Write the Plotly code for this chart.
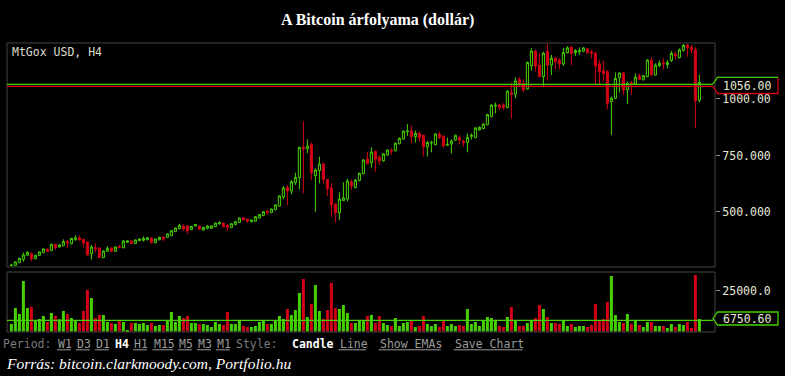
import plotly.graph_objects as go

# ---------------- data ----------------
candle_index = list(range(173))

open_ = [263, 264, 276, 290, 308, 317, 293, 308, 320, 336, 329, 357, 345, 351, 370, 360, 377, 386, 379, 367,
         316, 342, 341, 298, 326, 341, 326, 348, 342, 366, 372, 360, 373, 375, 377, 385, 364, 377, 389, 388,
         395, 413, 426, 438, 438, 422, 438, 438, 420, 428, 428, 435, 447, 451, 442, 431, 444, 453, 475, 469,
         457, 459, 473, 484, 503, 497, 510, 526, 566, 608, 593, 630, 652, 786, 779, 801, 661, 683, 712, 644,
         606, 535, 497, 550, 557, 633, 608, 639, 669, 734, 718, 768, 742, 726, 752, 774, 771, 802, 823, 855,
         858, 833, 848, 839, 789, 805, 798, 845, 836, 795, 801, 818, 829, 814, 807, 835, 829, 863, 869, 886,
         922, 969, 973, 973, 962, 1028, 1021, 1087, 1069, 1044, 1147, 1212, 1150, 1099, 1212, 1150, 1180, 1172, 1155, 1205,
         1229, 1205, 1209, 1211, 1221, 1209, 1203, 1155, 1124, 1121, 988, 1003, 1094, 1115, 1041, 1072, 1066, 1102, 1085, 1099,
         1172, 1106, 1147, 1160, 1152, 1170, 1199, 1183, 1215, 1239, 1229, 1217, 995]

high = [268, 281, 297, 320, 326, 320, 310, 325, 339, 338, 359, 359, 357, 379, 376, 385, 397, 397, 381, 369,
        354, 361, 343, 330, 349, 343, 348, 354, 374, 374, 374, 378, 383, 392, 389, 387, 382, 390, 391, 405,
        419, 431, 448, 445, 440, 438, 447, 440, 434, 442, 440, 453, 459, 453, 444, 450, 459, 475, 477, 471,
        466, 481, 490, 503, 509, 515, 533, 573, 615, 619, 641, 674, 788, 901, 821, 807, 693, 745, 718, 646,
        627, 537, 587, 631, 647, 644, 646, 674, 733, 767, 786, 771, 748, 760, 777, 782, 808, 829, 861, 889,
        882, 860, 855, 842, 813, 815, 848, 855, 839, 829, 821, 842, 839, 821, 848, 848, 875, 878, 892, 934,
        976, 984, 978, 981, 1038, 1072, 1096, 1096, 1087, 1165, 1224, 1217, 1202, 1209, 1243, 1195, 1187, 1180, 1227, 1234,
        1234, 1221, 1229, 1229, 1224, 1217, 1209, 1175, 1170, 1128, 1010, 1118, 1117, 1118, 1077, 1080, 1113, 1113, 1106, 1175,
        1184, 1158, 1170, 1180, 1172, 1212, 1209, 1224, 1243, 1243, 1239, 1229, 1108]

low = [260, 262, 274, 280, 305, 282, 291, 306, 318, 323, 327, 332, 342, 348, 339, 357, 373, 373, 344, 305,
       290, 321, 296, 295, 323, 323, 323, 339, 339, 364, 358, 358, 371, 369, 375, 362, 362, 375, 370, 386,
       393, 411, 424, 417, 403, 420, 436, 421, 417, 423, 426, 433, 445, 433, 416, 429, 442, 451, 463, 453,
       455, 457, 471, 482, 488, 495, 508, 524, 556, 529, 578, 619, 600, 582, 760, 641, 501, 627, 627, 571,
       479, 453, 464, 549, 546, 597, 604, 636, 667, 711, 696, 678, 708, 723, 749, 752, 768, 799, 820, 836,
       804, 807, 811, 745, 745, 764, 795, 823, 786, 795, 759, 815, 801, 789, 764, 821, 826, 860, 866, 883,
       919, 936, 951, 951, 959, 914, 1003, 1054, 1032, 1041, 1125, 1122, 1097, 1052, 1081, 1106, 1131, 1131, 1147, 1202,
       1149, 1190, 1195, 1208, 1202, 1180, 1065, 1065, 1077, 954, 841, 1000, 1029, 1018, 978, 1018, 1064, 1084, 1082, 1096,
       1104, 1104, 1140, 1131, 1136, 1164, 1175, 1180, 1209, 1187, 1202, 870, 985]

close = [265, 279, 295, 310, 321, 292, 308, 323, 336, 326, 357, 342, 354, 369, 364, 383, 386, 376, 363, 311,
         345, 336, 299, 327, 339, 326, 345, 343, 372, 372, 360, 376, 380, 383, 386, 364, 380, 388, 380, 403,
         417, 429, 441, 425, 416, 436, 445, 423, 432, 438, 438, 451, 453, 435, 432, 448, 457, 473, 465, 459,
         464, 479, 488, 501, 498, 513, 531, 571, 606, 593, 634, 653, 786, 779, 792, 674, 686, 712, 644, 603,
         531, 497, 557, 562, 637, 615, 641, 671, 730, 715, 765, 733, 726, 757, 774, 770, 804, 826, 858, 858,
         833, 848, 829, 789, 807, 808, 845, 830, 792, 799, 814, 839, 818, 807, 830, 839, 872, 875, 889, 931,
         973, 972, 963, 962, 1035, 1021, 1080, 1062, 1040, 1162, 1212, 1146, 1099, 1203, 1150, 1180, 1165, 1155, 1206, 1226,
         1201, 1214, 1214, 1226, 1205, 1202, 1147, 1121, 1113, 981, 1003, 1091, 1115, 1040, 1069, 1065, 1096, 1087, 1103, 1172,
         1106, 1150, 1158, 1156, 1161, 1202, 1192, 1217, 1237, 1227, 1217, 991, 1074]

volume = [4580, 14340, 10680, 30810, 14340, 14950, 6410, 7630, 9460, 5800, 11290, 9460, 7430, 12510, 10680, 8240, 6410, 5190, 12510, 25320,
          20440, 8240, 10070, 10070, 5800, 5190, 4580, 7020, 5800, 920, 5190, 5190, 4580, 5190, 3970, 5190, 3360, 3970, 3970, 7020,
          11900, 5800, 9460, 8240, 9460, 5190, 5190, 4580, 4580, 3970, 2750, 5800, 4580, 3970, 11900, 4580, 4580, 7020, 3360, 2750,
          2750, 3360, 5800, 6410, 4580, 4580, 7020, 9460, 7630, 13730, 10070, 13120, 23490, 32030, 8850, 16780, 28370, 12510, 7630, 13120,
          29590, 14340, 13730, 16170, 11290, 5190, 5190, 7020, 7020, 9460, 10070, 5190, 9460, 5190, 3970, 3360, 8240, 3360, 5190, 5800,
          6410, 2750, 3360, 9460, 4580, 3360, 4580, 2750, 7020, 3360, 4580, 3360, 3970, 3360, 13730, 4580, 5800, 3360, 6410, 8850,
          8240, 6410, 3360, 2750, 8850, 14950, 7020, 3360, 3360, 5190, 7020, 8240, 16170, 13730, 8850, 5190, 5190, 4580, 7020, 3360,
          4580, 2750, 3360, 3360, 2750, 3970, 16780, 7020, 7630, 18000, 33860, 10070, 5800, 5190, 10680, 4580, 7020, 3970, 2750, 5800,
          5800, 3360, 3360, 3360, 2140, 4580, 2750, 4580, 3970, 5800, 2140, 34465, 7630]

ask_price = 1065.0
last_price = 1056.00
volume_avg = 6750.60

price_ticks = [500, 750, 1000]
price_tick_labels = ["500.000", "750.000", "1000.00"]
volume_ticks = [25000]
volume_tick_labels = ["25000.0"]

title_text = "A Bitcoin árfolyama (dollár)"
market_label = "MtGox USD, H4"
source_text = "Forrás: bitcoin.clarkmoody.com, Portfolio.hu"
period_links = ["W1", "D3", "D1", "H4", "H1", "M15", "M5", "M3", "M1"]
active_period = "H4"
style_links = ["Candle", "Line"]
active_style = "Candle"
extra_links = ["Show EMAs", "Save Chart"]

# ---------------- styling / layout ----------------
W, H = 785, 376
ML, MR, MT, MB = 7, 70, 43, 44
PW = W - ML - MR
PH = H - MT - MB

GREEN = "#46d000"
RED = "#d20016"
BORDER = "#454545"
TXT = "#e8e8d8"
MONO = "DejaVu Sans Mono"


def px(x):
    return (x - ML) / PW


def py(y):
    return (H - MB - y) / PH


main_dom = [py(267), 1.0]
vol_dom = [0.0, py(272)]
price_range = [256.5, 1247.7]
vol_range = [-305, 36295]

vol_colors = [GREEN if c >= o else RED for o, c in zip(open_, close)]

fig = go.Figure()
fig.add_trace(go.Candlestick(
    x=candle_index, open=open_, high=high, low=low, close=close,
    increasing=dict(line=dict(color=GREEN, width=1), fillcolor="#000000"),
    decreasing=dict(line=dict(color=RED, width=1), fillcolor=RED),
    whiskerwidth=0, xaxis="x", yaxis="y", hoverinfo="skip", showlegend=False,
))
fig.add_trace(go.Bar(
    x=candle_index, y=volume, marker=dict(color=vol_colors, line=dict(width=0)),
    xaxis="x", yaxis="y2", hoverinfo="skip", showlegend=False,
))

fig.update_layout(
    width=W, height=H,
    margin=dict(l=ML, r=MR, t=MT, b=MB, pad=0),
    paper_bgcolor="#000000", plot_bgcolor="#000000",
    showlegend=False, hovermode=False, bargap=0.25, boxgap=0.25,
    xaxis=dict(range=[-1.1, 175.9], visible=False, fixedrange=True, anchor="y2",
               rangeslider=dict(visible=False)),
    yaxis=dict(domain=main_dom, range=price_range, side="right", showgrid=False, zeroline=False,
               tickvals=price_ticks, ticktext=price_tick_labels, ticks="outside", ticklen=4,
               tickcolor="#888888", tickfont=dict(family=MONO, size=11.5, color=TXT),
               showline=False, anchor="x"),
    yaxis2=dict(domain=vol_dom, range=vol_range, side="right", showgrid=False, zeroline=False,
                tickvals=volume_ticks, ticktext=volume_tick_labels, ticks="outside", ticklen=4,
                tickcolor="#888888", tickfont=dict(family=MONO, size=11.5, color=TXT),
                showline=False, anchor="x"),
)

shapes = []
# panel borders
for yr in ["y domain", "y2 domain"]:
    shapes.append(dict(type="rect", xref="x domain", yref=yr, x0=0, x1=1, y0=0, y1=1,
                       line=dict(color=BORDER, width=1), layer="above"))

# price lines
shapes.append(dict(type="line", xref="paper", yref="y", x0=0, x1=px(713), y0=ask_price, y1=ask_price,
                   line=dict(color=GREEN, width=1.2), layer="above"))
shapes.append(dict(type="line", xref="paper", yref="y", x0=0, x1=px(713), y0=last_price, y1=last_price,
                   line=dict(color=RED, width=1.2), layer="above"))
# volume average line
shapes.append(dict(type="line", xref="paper", yref="y2", x0=0, x1=px(713), y0=volume_avg, y1=volume_avg,
                   line=dict(color=GREEN, width=1.2), layer="above"))


def path(points):
    return "M " + " L ".join(f"{px(a):.5f},{py(b):.5f}" for a, b in points)


# last price label box (green top, red rest)
shapes.append(dict(type="path", xref="paper", yref="paper",
                   path=path([(713, 86), (717.5, 93.5), (778, 93.5), (778, 77.5)]),
                   line=dict(color=RED, width=1.3), layer="above"))
shapes.append(dict(type="path", xref="paper", yref="paper",
                   path=path([(713, 84), (717.5, 77.3), (778, 77.3)]),
                   line=dict(color=GREEN, width=1.3), layer="above"))
# volume label box
shapes.append(dict(type="path", xref="paper", yref="paper",
                   path=path([(713, 318.5), (717.5, 312), (778, 312), (778, 325), (717.5, 325)]) + " Z",
                   line=dict(color=GREEN, width=1.3), layer="above"))

annotations = []
annotations.append(dict(xref="paper", yref="paper", x=px(747.5), y=py(86), text=f"{last_price:.2f}",
                        showarrow=False, xanchor="center", yanchor="middle",
                        font=dict(family=MONO, size=11.5, color=TXT)))
annotations.append(dict(xref="paper", yref="paper", x=px(747.5), y=py(318.5), text=f"{volume_avg:.2f}",
                        showarrow=False, xanchor="center", yanchor="middle",
                        font=dict(family=MONO, size=11.5, color=TXT)))
annotations.append(dict(xref="paper", yref="paper", x=px(377), y=py(20), text=f"<b>{title_text}</b>",
                        showarrow=False, xanchor="center", yanchor="middle",
                        font=dict(family="Liberation Serif", size=16, color="#ffffff")))
annotations.append(dict(xref="paper", yref="paper", x=px(10), y=py(51.5), text=market_label,
                        showarrow=False, xanchor="left", yanchor="middle",
                        font=dict(family=MONO, size=11.5, color="#dcdccc")))
annotations.append(dict(xref="paper", yref="paper", x=px(4), y=py(363), text=f"<i>{source_text}</i>",
                        showarrow=False, xanchor="left", yanchor="middle",
                        font=dict(family="Liberation Serif", size=15.5, color="#ffffff")))

# control bar
CH = 6.92
bar_y = 344


def add_word(x, word, active=False, link=True, color="#9a9a9a"):
    txt = f"<b>{word}</b>" if active else word
    annotations.append(dict(xref="paper", yref="paper", x=px(x - 1), y=py(bar_y), text=txt,
                            showarrow=False, xanchor="left", yanchor="middle",
                            font=dict(family=MONO, size=11.5, color="#ffffff" if active else color)))
    if link and not active:
        shapes.append(dict(type="line", xref="paper", yref="paper", x0=px(x), x1=px(x + len(word) * CH),
                           y0=py(349.8), y1=py(349.8), line=dict(color=color, width=1), layer="above"))


add_word(2, "Period:", link=False, color="#7a7a7a")
period_x = [57, 76, 95, 114, 133, 152.5, 178, 197, 216]
for xx, w in zip(period_x, period_links):
    add_word(xx, w, active=(w == active_period))
add_word(235, "Style:", link=False, color="#7a7a7a")
for xx, w in zip([291, 338.5], style_links):
    add_word(xx, w, active=(w == active_style))
for xx, w in zip([378.5, 453.5], extra_links):
    add_word(xx, w)

fig.update_layout(shapes=shapes, annotations=annotations)
fig.write_html("out.html")
